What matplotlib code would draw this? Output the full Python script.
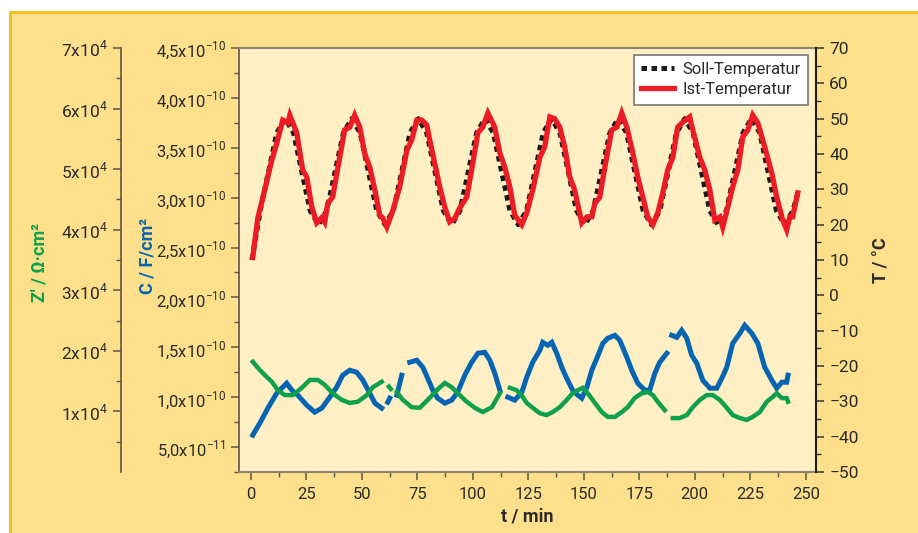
import numpy as np
import matplotlib
matplotlib.use("Agg")
import matplotlib.pyplot as plt
from matplotlib.patches import Rectangle
from matplotlib.ticker import FixedLocator, FixedFormatter, MultipleLocator

plt.rcParams['font.family'] = ['Roboto', 'DejaVu Sans']
plt.rcParams['mathtext.fontset'] = 'custom'
plt.rcParams['mathtext.rm'] = 'Roboto'

nan = np.nan

# Soll-Temperatur (schwarz gepunktet)
soll_t = [0.5, 4.25, 8.0, 11.75, 15.5, 19.25, 23.0, 26.75, 30.5, 34.25, 38.0, 41.75,
          45.5, 49.25, 53.0, 56.75, 60.5, 64.25, 68.0, 71.75, 75.5, 79.25, 83.0, 86.75,
          90.5, 94.25, 98.0, 101.75, 105.5, 109.25, 113.0, 116.75, 120.5, 124.25, 128.0,
          131.75, 135.5, 139.25, 143.0, 146.75, 150.5, 154.25, 158.0, 161.75, 165.5,
          169.25, 173.0, 176.75, 180.5, 184.25, 188.0, 191.75, 195.5, 199.25, 203.0,
          206.75, 210.5, 214.25, 218.0, 221.75, 225.5, 229.25, 233.0, 236.75, 240.5,
          244.25, 246.4]
soll_T = [10,
          24, 35, 46, 50, 46, 35, 24, 20,
          24, 35, 46, 50, 46, 35, 24, 20,
          24, 35, 46, 50, 46, 35, 24, 20,
          24, 35, 46, 50, 46, 35, 24, 20,
          24, 35, 46, 50, 46, 35, 24, 20,
          24, 35, 46, 50, 46, 35, 24, 20,
          24, 35, 46, 50, 46, 35, 24, 20,
          24, 35, 46, 50, 46, 35, 24, 20,
          24, 29]

# Ist-Temperatur (rot)
ist_t = [0.9, 3.2, 5.4, 9.5, 11.7, 14.4, 16.7, 17.6, 20.7, 23.4,
         25.2, 27.5, 29.7, 32.0, 33.3, 34.7, 36.9, 39.2, 42.3, 44.6,
         46.8, 49.1, 51.4, 53.6, 55.9, 58.1, 59.5, 61.3, 64.0, 67.1,
         70.3, 72.5, 74.8, 77.0, 79.3, 80.6, 83.8, 85.1, 87.4, 89.6,
         91.9, 94.1, 97.3, 99.5, 102.3, 104.5, 106.8, 109.9, 112.2, 114.4,
         116.7, 118.9, 122.1, 124.3, 127.0, 130.2, 132.4, 134.7, 136.9, 139.2,
         141.4, 143.7, 145.9, 149.1, 151.4, 153.6, 155.0, 157.2, 159.5, 162.6,
         164.9, 167.1, 169.4, 172.1, 174.3, 176.6, 178.8, 181.1, 183.3, 185.6,
         187.8, 190.1, 192.3, 194.6, 197.7, 199.1, 202.3, 204.5, 206.8, 209.0,
         211.3, 212.6, 214.9, 217.1, 219.4, 221.6, 223.9, 226.1, 228.4, 231.5,
         234.7, 236.9, 239.6, 241.4, 242.8, 244.1, 246.4]
ist_T = [10.8, 22, 27.5, 38.3, 43, 49.6, 48.8, 51, 46, 35.5,
         33.5, 25, 20.5, 22, 20.7, 26, 27.8, 36, 46.8, 47.6,
         51, 47.6, 40, 36.3, 29.8, 22.7, 21.9, 19.3, 24, 30.7,
         41, 44, 49.6, 49.6, 48.2, 44, 34.6, 30.7, 25, 20.8,
         21.8, 24.7, 27.8, 35.5, 46, 47.6, 51.6, 47.6, 40.3, 36.3,
         30.7, 22.7, 20, 23.3, 29.8, 39, 42, 50.5, 50, 47.6,
         42, 33.5, 29.8, 20.5, 22.2, 22.2, 26, 27.8, 36.3, 46.8,
         47.6, 51.6, 47.6, 40.3, 33.5, 27.8, 22.2, 20, 23.3, 29,
         35.5, 39, 47.6, 49, 50.5, 46.8, 39, 35.5, 29.8, 21.3,
         22.2, 19.3, 25, 30.7, 35.5, 44.8, 46.8, 51, 48.8, 42,
         34.6, 27.8, 21.3, 18.5, 22.2, 22.2, 29]

# Kapazitaet C in 1e-10 F/cm2 (blau), nan = Luecke
c_t = [0.9, 4.1, 7.7, 11.7, 16.2, 18.5, 21.2, 25.2, 28.8, 32.0, 35.6, 38.7, 41.4,
       44.6, 47.7, 50.5, 53.6, 55.9, 59.0, nan, 61.7, 62.6, nan, 65.8, 68.0, nan,
       71.6, 74.8, 77.5, 79.7, 82.0, 84.2, 87.4, 90.5, 93.2, 96.4, 99.5, 102.3, 105.4,
       107.7, 109.9, 112.2, nan,
       115.8, 118.9, 122.1, 124.3, 127.0, 130.2, 131.5, 133.8, 135.6, 137.8, 140.1,
       142.3, 145.0, 147.3, 149.1, 151.4, 153.6, 155.9, 158.6, 160.8, 164.0, 166.2,
       169.4, 171.6, 174.3, 177.5, 179.7, 182.0, 184.2, 187.4, nan,
       189.6, 191.9, 194.1, 196.4, 198.6, 200.9, 203.6, 206.8, 209.9, 212.2, 214.4,
       217.1, 220.3, 222.5, 225.7, 228.4, 231.5, 234.7, 236.9, 239.2, 241.4, 242.0]
c_val = [0.62, 0.74, 0.89, 1.04, 1.14, 1.07, 1.02, 0.92, 0.85, 0.89, 1.00, 1.10, 1.22,
         1.27, 1.25, 1.17, 1.04, 0.94, 0.89, nan, 0.95, 0.99, nan, 1.02, 1.22, nan,
         1.35, 1.37, 1.30, 1.19, 1.07, 0.99, 0.94, 0.97, 1.05, 1.22, 1.35, 1.44, 1.45,
         1.37, 1.24, 1.07, nan,
         1.00, 0.97, 1.05, 1.20, 1.35, 1.47, 1.55, 1.52, 1.55, 1.44, 1.30,
         1.19, 1.07, 1.02, 0.99, 1.10, 1.27, 1.39, 1.54, 1.59, 1.62, 1.57,
         1.40, 1.27, 1.14, 1.07, 1.07, 1.24, 1.35, 1.44, nan,
         1.62, 1.60, 1.67, 1.59, 1.42, 1.34, 1.17, 1.09, 1.09, 1.19, 1.30,
         1.54, 1.64, 1.72, 1.64, 1.54, 1.30, 1.17, 1.09, 1.15, 1.15, 1.22]

# Z' in 1e4 Ohm cm2 (gruen)
z_t = [0.9, 3.2, 6.3, 9.5, 12.2, 15.3, 18.9, 23.0, 26.6, 30.2, 33.3, 36.9, 41.0, 44.6,
       48.2, 52.3, 55.0, 59.0, nan, 62.2, 63.1, nan,
       65.8, 68.5, 72.5, 76.1, 79.7, 83.8, 87.4, 90.5, 93.2, 97.3, 100.9, 104.5, 108.6,
       112.2, nan,
       116.7, 119.8, 122.5, 124.3, 127.0, 130.2, 133.3, 136.0, 139.2, 142.3, 145.0,
       147.3, 149.5, 151.8, 155.0, 158.1, 160.8, 164.0, 167.1, 169.8, 172.9, 176.1,
       178.8, 181.1, 183.3, 186.5, nan,
       190.1, 193.2, 196.4, 199.1, 202.3, 205.4, 208.1, 211.3, 214.4, 217.1, 220.3,
       223.4, 226.1, 229.3, 232.4, 235.1, 236.9, 239.2, 241.4, 242.0]
z_val = [1.82, 1.72, 1.60, 1.49, 1.35, 1.27, 1.27, 1.39, 1.52, 1.52, 1.44, 1.30, 1.19, 1.14,
         1.16, 1.27, 1.40, 1.49, nan, 1.41, 1.37, nan,
         1.32, 1.19, 1.07, 1.06, 1.19, 1.35, 1.47, 1.40, 1.30, 1.16, 1.06, 0.99, 1.07,
         1.30, nan,
         1.39, 1.35, 1.24, 1.14, 1.06, 0.97, 0.94, 0.99, 1.07, 1.19, 1.30,
         1.35, 1.39, 1.30, 1.14, 0.99, 0.91, 0.91, 0.99, 1.07, 1.22, 1.30,
         1.32, 1.27, 1.16, 1.02, nan,
         0.89, 0.89, 0.94, 1.07, 1.19, 1.27, 1.27, 1.19, 1.06, 0.94, 0.89,
         0.86, 0.91, 0.99, 1.16, 1.24, 1.30, 1.22, 1.22, 1.16]

# Achsenbeschriftungen
x_ticks = [0, 25, 50, 75, 100, 125, 150, 175, 200, 225, 250]
c_ticks = [0.5e-10, 1.0e-10, 1.5e-10, 2.0e-10, 2.5e-10, 3.0e-10, 3.5e-10, 4.0e-10, 4.5e-10]
c_labels = [r'5,0x10$^{\mathregular{-11}}$', r'1,0x10$^{\mathregular{-10}}$',
            r'1,5x10$^{\mathregular{-10}}$', r'2,0x10$^{\mathregular{-10}}$',
            r'2,5x10$^{\mathregular{-10}}$', r'3,0x10$^{\mathregular{-10}}$',
            r'3,5x10$^{\mathregular{-10}}$', r'4,0x10$^{\mathregular{-10}}$',
            r'4,5x10$^{\mathregular{-10}}$']
z_ticks = [1e4, 2e4, 3e4, 4e4, 5e4, 6e4, 7e4]
z_labels = [r'%dx10$^{\mathregular{4}}$' % i for i in range(1, 8)]
t_ticks = [-50, -40, -30, -20, -10, 0, 10, 20, 30, 40, 50, 60, 70]

RED = '#ED1C24'
BLUE = '#0565B2'
GREEN = '#0EA04B'
TXT = '#2a2a2a'

W, H = 918, 533
fig = plt.figure(figsize=(W / 100, H / 100), dpi=100)
fig.patch.set_facecolor('white')
fig.patches.append(Rectangle((10 / W, -0.02), 1.0, 1 - 12 / H + 0.02, transform=fig.transFigure,
                             facecolor='#FEE08C', edgecolor='#F6BD15', lw=2, zorder=-10))

x0, x1, y0, y1 = 239, 816, 48, 472
ax = fig.add_axes([x0 / W, 1 - y1 / H, (x1 - x0) / W, (y1 - y0) / H])
ax.set_facecolor('#FEEFC5')
axT = ax.twinx()
axZ = ax.twinx()

# C-Achse (links, Plotrand)
ax.plot(np.array(c_t), np.array(c_val) * 1e-10, color=BLUE, lw=3.6, solid_joinstyle='miter')
ax.set_xlim(-5.3, 254.6)
ax.set_ylim(0.25e-10, 4.5e-10)
ax.yaxis.set_major_locator(FixedLocator(c_ticks))
ax.yaxis.set_major_formatter(FixedFormatter(c_labels))
ax.yaxis.set_minor_locator(MultipleLocator(0.25e-10))
ax.xaxis.set_major_locator(FixedLocator(x_ticks))
ax.xaxis.set_minor_locator(MultipleLocator(12.5))
for s in ['top', 'bottom']:
    ax.spines[s].set_color('#8c8270')
    ax.spines[s].set_linewidth(1.5)
ax.spines['left'].set_color('#5e5445')
ax.spines['left'].set_linewidth(1.2)
ax.spines['right'].set_visible(False)
ax.tick_params(which='both', direction='out', color='#5e5445', labelcolor=TXT, labelsize=12)
ax.tick_params(which='major', length=6, width=1.1)
ax.tick_params(which='minor', length=3.5, width=1.0)
ax.tick_params(axis='x', pad=5)
ax.tick_params(axis='x', which='both', top=False)
ax.set_xlabel('t / min', fontsize=13, fontweight='bold', color=TXT, labelpad=4)

# Temperatur (rechts)
l1, = axT.plot(soll_t, soll_T, color='#1a1a1a', lw=3.6, linestyle=(0, (1.1, 0.9)),
               label='Soll-Temperatur')
l2, = axT.plot(ist_t, ist_T, color=RED, lw=3.8, solid_joinstyle='miter', label='Ist-Temperatur')
axT.set_ylim(-50, 70)
axT.yaxis.set_major_locator(FixedLocator(t_ticks))
axT.yaxis.set_minor_locator(MultipleLocator(5))
for s in ['left', 'top', 'bottom']:
    axT.spines[s].set_visible(False)
axT.spines['right'].set_color('#1e1e1e')
axT.spines['right'].set_linewidth(1.5)
axT.tick_params(which='both', direction='out', color='#333333', labelcolor=TXT, labelsize=12.5)
axT.tick_params(which='major', length=6, width=1.1)
axT.tick_params(which='minor', length=3.5, width=1.0)
axT.set_ylabel('T / °C', fontsize=13, fontweight='bold', color=TXT, labelpad=10)

# Z'-Achse (weit links)
axZ.plot(z_t, np.array(z_val) * 1e4, color=GREEN, lw=3.2, solid_joinstyle='miter')
axZ.set_ylim(0, 7e4)
axZ.spines['left'].set_position(('axes', (121 - x0) / (x1 - x0)))
axZ.spines['left'].set_visible(True)
axZ.spines['left'].set_color('#5e5445')
axZ.spines['left'].set_linewidth(1.2)
for s in ['right', 'top', 'bottom']:
    axZ.spines[s].set_visible(False)
axZ.yaxis.set_ticks_position('left')
axZ.yaxis.set_label_position('left')
axZ.yaxis.set_major_locator(FixedLocator(z_ticks))
axZ.yaxis.set_major_formatter(FixedFormatter(z_labels))
axZ.yaxis.set_minor_locator(FixedLocator([5e3 + 1e4 * i for i in range(7)]))
axZ.tick_params(which='both', direction='out', color='#5e5445', labelcolor=TXT, labelsize=12.5)
axZ.tick_params(which='major', length=6, width=1.1)
axZ.tick_params(which='minor', length=3.5, width=1.0)

fig.text(40 / W, 1 - 262 / H, "Z' / \u03a9\u00b7cm\u00b2", rotation=90, ha='center', va='center',
         color=GREEN, fontsize=13, fontweight='bold')
fig.text(148 / W, 1 - 256 / H, 'C / F/cm\u00b2', rotation=90, ha='center', va='center',
         color=BLUE, fontsize=13, fontweight='bold')

leg = axT.legend(handles=[l1, l2], loc='upper right', bbox_to_anchor=(0.987, 0.984),
                 borderaxespad=0, fontsize=12, handlelength=2.0, handletextpad=0.5,
                 borderpad=0.45, labelspacing=0.3, fancybox=False, framealpha=1)
leg.get_frame().set_edgecolor('#777777')
leg.get_frame().set_linewidth(1.2)
for t in leg.get_texts():
    t.set_color(TXT)

fig.savefig('out.png', dpi=100, facecolor=fig.get_facecolor())
